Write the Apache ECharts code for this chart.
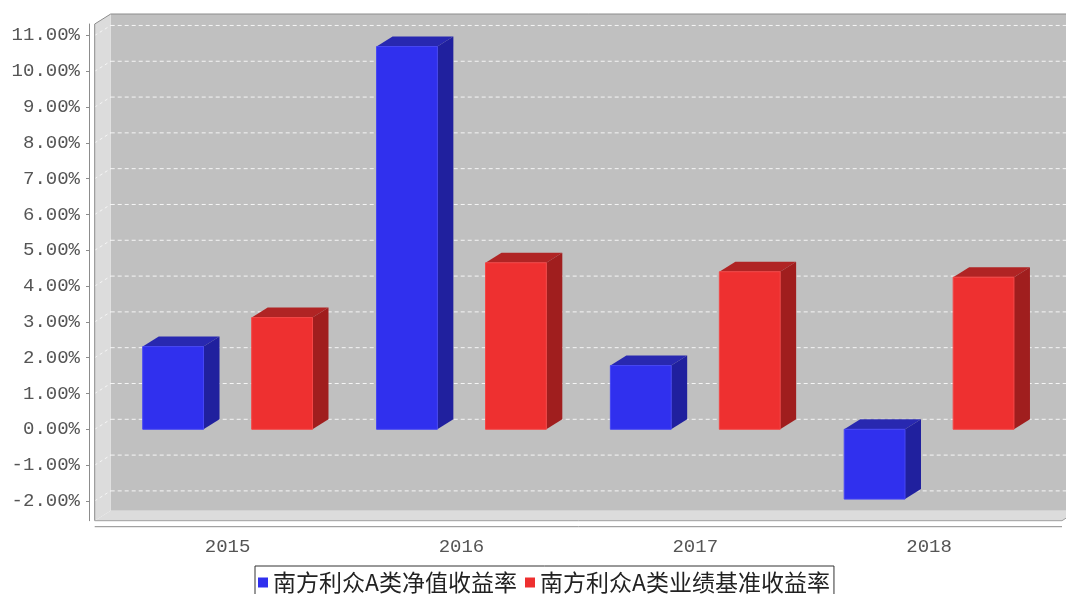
<!DOCTYPE html>
<html>
<head>
<meta charset="utf-8">
<script src="https://cdn.jsdelivr.net/npm/echarts@6/dist/echarts.min.js"></script>
<style>
html, body { margin: 0; background: #fff; }
#chart { width: 1066px; height: 594px; }
</style>
</head>
<body>
<div id="chart"></div>
<script>
// 南方利众A 年度收益率 3D柱状图
var years = ['2015', '2016', '2017', '2018'];
var navReturn = [2.31, 10.69, 1.78, -1.95];
var benchReturn = [3.12, 4.65, 4.40, 4.25];
var yTicks = [-2, -1, 0, 1, 2, 3, 4, 5, 6, 7, 8, 9, 10, 11];
var seriesNames = ['南方利众A类净值收益率', '南方利众A类业绩基准收益率'];

var DX = 16, DY = 10; // 3D 深度
var colors = [
    { front: '#3030EE', top: '#2828B0', side: '#20209E', edge: '#4646F4' },
    { front: '#EE3030', top: '#B02424', side: '#A01E1E', edge: '#F44646' }
];
var labelFont = 'Liberation Mono';

var myChart = echarts.init(document.getElementById('chart'));

// 背景墙、网格线
function wallRender(params, api) {
    var cs = params.coordSys;
    var fl = cs.x - DX, fr = cs.x + cs.width + DX;
    var ft = cs.y, fb = cs.y + cs.height;
    var kids = [
        { type: 'rect', shape: { x: fl + DX, y: ft - DY, width: fr - fl, height: fb - ft },
          style: { fill: '#C0C0C0' } },
        { type: 'polygon', shape: { points: [[fl, ft], [fl + DX, ft - DY], [fl + DX, fb - DY], [fl, fb]] },
          style: { fill: '#DCDCDC' } },
        { type: 'polygon', shape: { points: [[fl, fb], [fl + DX, fb - DY], [fr + DX, fb - DY], [fr, fb]] },
          style: { fill: '#DCDCDC' } }
    ];
    yTicks.forEach(function (t) {
        var y = api.coord([0, t])[1];
        kids.push({ type: 'line', shape: { x1: fl + DX, y1: y - DY, x2: fr + DX, y2: y - DY },
            style: { stroke: 'rgba(255,255,255,0.85)', lineWidth: 1, lineDash: [4, 3] } });
        kids.push({ type: 'line', shape: { x1: fl, y1: y, x2: fl + DX, y2: y - DY },
            style: { stroke: 'rgba(255,255,255,0.7)', lineWidth: 1, lineDash: [3, 3] } });
    });
    kids.push({ type: 'polyline', shape: { points: [[fl, fb], [fl, ft], [fl + DX, ft - DY], [fr + DX, ft - DY]] },
        style: { stroke: '#8C8C8C', lineWidth: 1, fill: null } });
    kids.push({ type: 'polyline', shape: { points: [[fl, fb], [fr, fb], [fr + DX, fb - DY]] },
        style: { stroke: '#A0A0A0', lineWidth: 1, fill: null } });
    // x 轴线
    kids.push({ type: 'line', shape: { x1: fl, y1: fb + 6, x2: fr, y2: fb + 6 },
        style: { stroke: '#8C8C8C', lineWidth: 1 } });
    return { type: 'group', children: kids };
}

function barRender(k) {
    return function (params, api) {
        var i = api.value(0), v = api.value(1);
        var band = api.size([1, 0])[0];
        var w = band * 0.26, off = band * 0.233 * (k === 0 ? -1 : 1);
        var p0 = api.coord([i, 0]), p1 = api.coord([i, v]);
        var cx = p0[0] + off;
        var x0 = cx - w / 2, x1 = cx + w / 2;
        var yt = Math.min(p0[1], p1[1]), yb = Math.max(p0[1], p1[1]);
        var c = colors[k];
        return {
            type: 'group',
            children: [
                { type: 'polygon', shape: { points: [[x0, yt], [x0 + DX, yt - DY], [x1 + DX, yt - DY], [x1, yt]] },
                  style: { fill: c.top } },
                { type: 'polygon', shape: { points: [[x1, yt], [x1 + DX, yt - DY], [x1 + DX, yb - DY], [x1, yb]] },
                  style: { fill: c.side } },
                { type: 'rect', shape: { x: x0, y: yt, width: w, height: yb - yt },
                  style: { fill: c.front, stroke: c.edge, lineWidth: 1 } }
            ]
        };
    };
}

myChart.setOption({
    animation: false,
    grid: {
        left: 110.7,
        right: 20,
        top: 24,
        bottom: 73.3
    },
    legend: {
        data: seriesNames,
        left: 255,
        top: 566,
        icon: 'rect',
        itemWidth: 10,
        itemHeight: 10,
        itemGap: 8,
        borderColor: '#333',
        borderWidth: 1,
        borderRadius: 0,
        padding: [5, 4, 12, 3],
        textStyle: {
            fontFamily: 'Noto Sans CJK SC',
            fontSize: 23,
            color: '#222'
        }
    },
    xAxis: {
        type: 'category',
        data: years,
        offset: 6,
        axisLine: { show: false },
        axisTick: { show: true, alignWithLabel: true, length: 3, lineStyle: { color: '#8C8C8C' } },
        axisLabel: { margin: 11, fontFamily: labelFont, fontSize: 19, color: '#555' },
        splitLine: { show: false }
    },
    yAxis: {
        type: 'value',
        min: -2.553,
        max: 11.32,
        offset: 21.7,
        axisLine: { show: true, lineStyle: { color: '#8C8C8C' } },
        axisTick: { show: true, length: 3, customValues: yTicks, lineStyle: { color: '#8C8C8C' } },
        axisLabel: {
            customValues: yTicks,
            margin: 9,
            fontFamily: labelFont,
            fontSize: 19,
            color: '#555',
            formatter: function (v) { return v.toFixed(2) + '%'; }
        },
        splitLine: { show: false }
    },
    series: [
        {
            type: 'custom',
            silent: true,
            clip: false,
            z: 1,
            renderItem: wallRender,
            data: [[0, 0]]
        },
        {
            name: seriesNames[0],
            type: 'custom',
            clip: false,
            z: 2,
            itemStyle: { color: colors[0].front },
            renderItem: barRender(0),
            encode: { x: 0, y: 1 },
            data: years.map(function (y, i) { return [i, navReturn[i]]; })
        },
        {
            name: seriesNames[1],
            type: 'custom',
            clip: false,
            z: 2,
            itemStyle: { color: colors[1].front },
            renderItem: barRender(1),
            encode: { x: 0, y: 1 },
            data: years.map(function (y, i) { return [i, benchReturn[i]]; })
        }
    ]
});
</script>
</body>
</html>
